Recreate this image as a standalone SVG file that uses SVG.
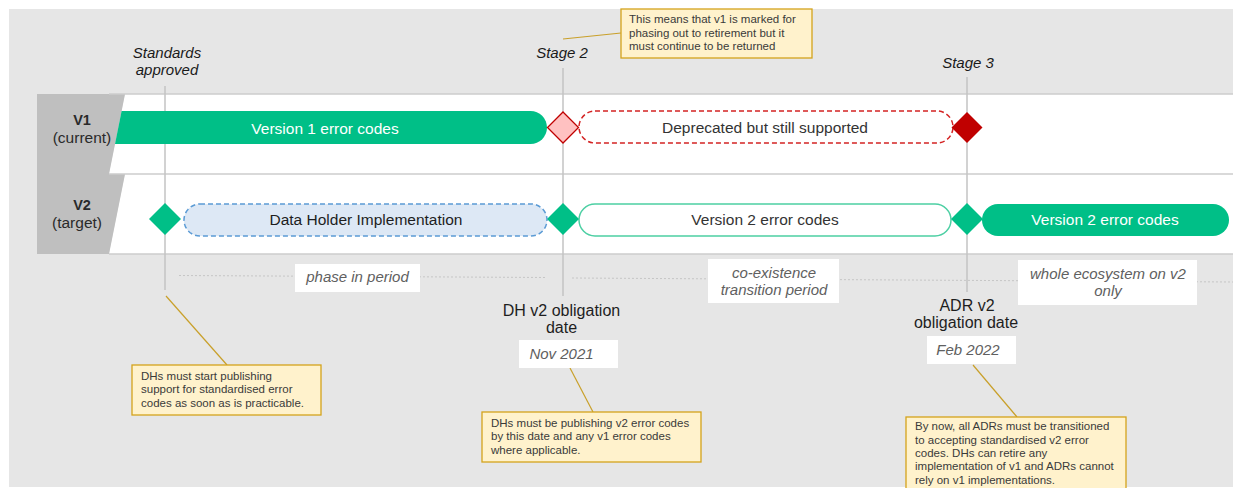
<svg xmlns="http://www.w3.org/2000/svg" width="1233" height="488" viewBox="0 0 1233 488">
<defs>
<style>
.t{font-family:"Liberation Sans",Arial,sans-serif}
.bar{font-family:"Liberation Sans",Arial,sans-serif;font-size:15.5px;text-anchor:middle}
.hdr{font-family:"Liberation Sans",Arial,sans-serif;font-size:15px;font-style:italic;fill:#1a1a1a;text-anchor:middle}
.per{font-family:"Liberation Sans",Arial,sans-serif;font-size:15px;font-style:italic;fill:#606060;text-anchor:middle}
.lbl{font-family:"Liberation Sans",Arial,sans-serif;font-size:16px;fill:#1e1e1e;text-anchor:middle}
.note{font-family:"Liberation Sans",Arial,sans-serif;font-size:11.5px;fill:#3a3a3a}
.nbox{fill:#fff2cc;stroke:#d4a31c;stroke-width:1.3}
.lead{stroke:#c9a02a;stroke-width:1.2;fill:none}
.vline{stroke:#c3c3c3;stroke-width:1.5}
.dot{stroke:#c6c6c6;stroke-width:1;stroke-dasharray:2 2}
.sep{stroke:#cdcdcd;stroke-width:1.5}
.wbox{fill:#ffffff}
.gd{fill:#00bf87}
</style>
</defs>
<rect x="0" y="0" width="1233" height="488" fill="#ffffff"/>
<rect x="9" y="9" width="1224" height="478" fill="#e6e6e6"/>

<g id="lanes">
<polygon points="125,94 1233,94 1233,174 109,174" fill="#ffffff"/>
<polygon points="125,174 1233,174 1233,254 109,254" fill="#ffffff"/>
<polygon points="37,94 125,94 109,174 37,174" fill="#bfbfbf"/>
<polygon points="37,174 125,174 109,254 37,254" fill="#bfbfbf"/>
<line class="sep" x1="109" y1="94" x2="1233" y2="94"/>
<line class="sep" x1="109" y1="174" x2="1233" y2="174"/>
<line class="sep" x1="109" y1="254" x2="1233" y2="254"/>
</g>
<g id="lane-v1-label">
<text class="t" x="82" y="125" font-size="14.5" font-weight="bold" fill="#2a2a2a" text-anchor="middle">V1</text>
<text class="t" x="82" y="142.5" font-size="15.5" fill="#2a2a2a" text-anchor="middle">(current)</text>
</g>
<g id="lane-v2-label">
<text class="t" x="82" y="210" font-size="14.5" font-weight="bold" fill="#2a2a2a" text-anchor="middle">V2</text>
<text class="t" x="77" y="227.5" font-size="15.5" fill="#2a2a2a" text-anchor="middle">(target)</text>
</g>

<g id="connectors">
<line class="vline" x1="165" y1="86" x2="165" y2="290"/>
<line class="vline" x1="563" y1="68" x2="563" y2="296"/>
<line class="vline" x1="967" y1="77" x2="967" y2="292"/>
<line class="dot" x1="179" y1="275.5" x2="546" y2="277.5"/>
<line class="dot" x1="572" y1="278" x2="1233" y2="282"/>
<line class="lead" x1="563" y1="39" x2="621" y2="33"/>
<line class="lead" x1="166" y1="296" x2="227" y2="365"/>
<line class="lead" x1="570" y1="368" x2="593" y2="412"/>
<line class="lead" x1="973" y1="365" x2="1017" y2="417"/>
</g>

<g id="v1-bar">
<path class="gd" d="M121.6,111 H530.5 A16.5,16.5 0 0 1 530.5,144 H115 Z"/>
<text class="bar" x="325" y="133.5" fill="#ffffff">Version 1 error codes</text>
</g>
<g id="deprecated">
<rect x="579" y="111" width="374" height="32" rx="16" fill="#ffffff" stroke="#d42323" stroke-width="1.5" stroke-dasharray="5 3"/>
<text class="bar" x="765" y="132.5" fill="#333333">Deprecated but still supported</text>
</g>
<g id="dh-impl">
<rect x="184" y="204" width="363" height="32" rx="16" fill="#dde8f5" stroke="#5b9bd5" stroke-width="1.5" stroke-dasharray="5 3"/>
<text class="bar" x="366" y="224.5" fill="#1e1e1e">Data Holder Implementation</text>
</g>
<g id="v2-coexist">
<rect x="579" y="204" width="372" height="32" rx="16" fill="#ffffff" stroke="#4ccfa3" stroke-width="1.5"/>
<text class="bar" x="765" y="224.5" fill="#333333">Version 2 error codes</text>
</g>
<g id="v2-only">
<rect class="gd" x="982" y="204" width="247" height="32" rx="16"/>
<text class="bar" x="1105" y="224.5" fill="#ffffff">Version 2 error codes</text>
</g>

<g id="ms-standards">
<polygon class="gd" points="165,203 181,219 165,235 149,219"/>
</g>
<g id="ms-stage2-v1">
<polygon points="563,112 578.5,127.5 563,143 547.5,127.5" fill="#ffc1c1" stroke="#c00000" stroke-width="1.3"/>
</g>
<g id="ms-stage2-v2">
<polygon class="gd" points="563,203 579,219 563,235 547,219"/>
</g>
<g id="ms-stage3-v1">
<polygon points="967,112 982.5,127.5 967,143 951.5,127.5" fill="#c00000"/>
</g>
<g id="ms-stage3-v2">
<polygon class="gd" points="967,203 983,219 967,235 951,219"/>
</g>

<g id="hdr-standards">
<text class="hdr" x="167" y="58">Standards</text>
<text class="hdr" x="167" y="75">approved</text>
</g>
<g id="hdr-stage2"><text class="hdr" x="562" y="58">Stage 2</text></g>
<g id="hdr-stage3"><text class="hdr" x="968" y="68">Stage 3</text></g>

<g id="note-stage2">
<rect class="nbox" x="621" y="9" width="191" height="49"/>
<text class="note" x="629" y="23" font-size="11.2">This means that v1 is marked for</text>
<text class="note" x="629" y="36.5" font-size="11.2">phasing out to retirement but it</text>
<text class="note" x="629" y="49.5" font-size="11.2">must continue to be returned</text>
</g>

<g id="period-phasein">
<rect class="wbox" x="295" y="264" width="125" height="28"/>
<text class="per" x="357.5" y="282">phase in period</text>
</g>
<g id="period-coexist">
<rect class="wbox" x="708" y="259" width="131" height="44"/>
<text class="per" x="774" y="277.5">co-existence</text>
<text class="per" x="774" y="294.5">transition period</text>
</g>
<g id="period-v2only">
<rect class="wbox" x="1018" y="260" width="179" height="45"/>
<text class="per" x="1108" y="278.5">whole ecosystem on v2</text>
<text class="per" x="1108" y="296">only</text>
</g>

<g id="date-dh">
<text class="lbl" x="561.5" y="315.5">DH v2 obligation</text>
<text class="lbl" x="561.5" y="333">date</text>
<rect class="wbox" x="519" y="340" width="99" height="28"/>
<text class="per" x="561.5" y="358.5" font-size="14.5">Nov 2021</text>
</g>
<g id="date-adr">
<text class="lbl" x="967" y="310.5">ADR v2</text>
<text class="lbl" x="966" y="327.5">obligation date</text>
<rect class="wbox" x="927" y="336" width="89" height="28"/>
<text class="per" x="968" y="355" font-size="14.5">Feb 2022</text>
</g>

<g id="note-standards">
<rect class="nbox" x="132" y="365" width="189" height="50"/>
<text class="note" x="141" y="379.5">DHs must start publishing</text>
<text class="note" x="141" y="393">support for standardised error</text>
<text class="note" x="141" y="406.5">codes as soon as is practicable.</text>
</g>
<g id="note-dh">
<rect class="nbox" x="482" y="412" width="219" height="50"/>
<text class="note" x="491" y="426.5">DHs must be publishing v2 error codes</text>
<text class="note" x="491" y="440">by this date and any v1 error codes</text>
<text class="note" x="491" y="454">where applicable.</text>
</g>
<g id="note-adr">
<rect class="nbox" x="906" y="417" width="220" height="80"/>
<text class="note" x="915" y="430">By now, all ADRs must be transitioned</text>
<text class="note" x="915" y="444">to accepting standardised v2 error</text>
<text class="note" x="915" y="457">codes. DHs can retire any</text>
<text class="note" x="915" y="470">implementation of v1 and ADRs cannot</text>
<text class="note" x="915" y="483.5">rely on v1 implementations.</text>
</g>
</svg>
